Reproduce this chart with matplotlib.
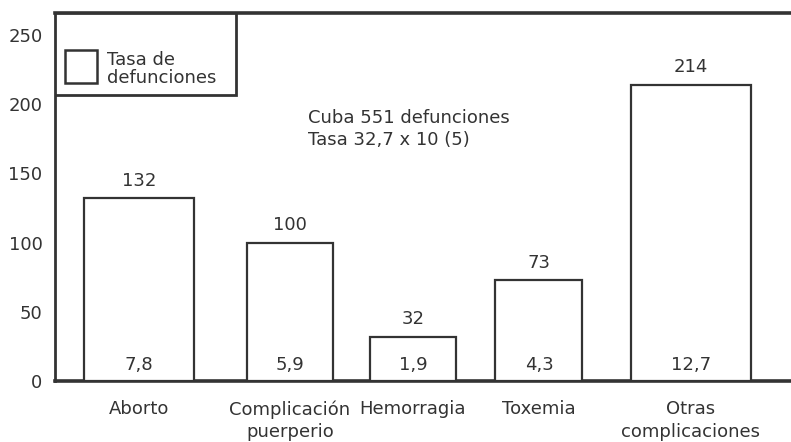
import matplotlib
matplotlib.use("Agg")
import matplotlib.pyplot as plt
from matplotlib.patches import Rectangle

plt.rcParams['font.family'] = ['DejaVu Sans']

categories = ["Aborto", "Complicación\npuerperio", "Hemorragia", "Toxemia", "Otras\ncomplicaciones"]
defunciones = [132, 100, 32, 73, 214]
tasas = ["7,8", "5,9", "1,9", "4,3", "12,7"]
y_ticks = [0, 50, 100, 150, 200, 250]

# layout of the bars along the x axis (centres and widths)
centers = [0.84, 2.35, 3.58, 4.84, 6.36]
widths = [1.10, 0.86, 0.86, 0.87, 1.20]

ink = "#333333"
fs = 13

fig = plt.figure(figsize=(7.91, 4.42), dpi=100)
ax = fig.add_axes([0.0695, 0.138, 0.9305, 0.833])

ax.bar(centers, defunciones, width=widths, facecolor="white",
       edgecolor=ink, linewidth=1.6, zorder=3)

for x, v, t in zip(centers, defunciones, tasas):
    ax.text(x, v + 6, str(v), ha="center", va="bottom", fontsize=fs, color=ink)
    ax.text(x, 5, t, ha="center", va="bottom", fontsize=fs, color=ink)

ax.set_xlim(0, 7.36)
ax.set_ylim(0, 266)
ax.set_yticks(y_ticks)
ax.set_yticklabels([str(v) for v in y_ticks], fontsize=fs, color=ink)
ax.set_xticks(centers)
ax.set_xticklabels(categories, fontsize=fs, color=ink, linespacing=1.3)
ax.tick_params(axis="both", length=0)
ax.tick_params(axis="y", pad=9)
ax.tick_params(axis="x", pad=14)

for side in ["left", "bottom", "top"]:
    ax.spines[side].set_color(ink)
ax.spines["left"].set_linewidth(2.0)
ax.spines["bottom"].set_linewidth(2.6)
ax.spines["top"].set_linewidth(2.6)
ax.spines["right"].set_visible(False)

ax.text(2.53, 182, "Cuba 551 defunciones\nTasa 32,7 x 10 (5)", ha="left", va="center",
        fontsize=fs, color=ink, linespacing=1.25)

# legend box
ax.add_patch(Rectangle((0.0, 1 - 82 / 368), 181 / 736, 82 / 368, transform=ax.transAxes,
                       facecolor="white", edgecolor=ink, linewidth=2.0, zorder=5))
ax.add_patch(Rectangle((10 / 736, 1 - 70 / 368), 32 / 736, 33 / 368, transform=ax.transAxes,
                       facecolor="white", edgecolor=ink, linewidth=1.8, zorder=6))
ax.text(52 / 736, 1 - 56 / 368, "Tasa de\ndefunciones", transform=ax.transAxes,
        ha="left", va="center", fontsize=fs, color=ink, linespacing=1.0, zorder=7)

fig.savefig("out.png", dpi=100)
